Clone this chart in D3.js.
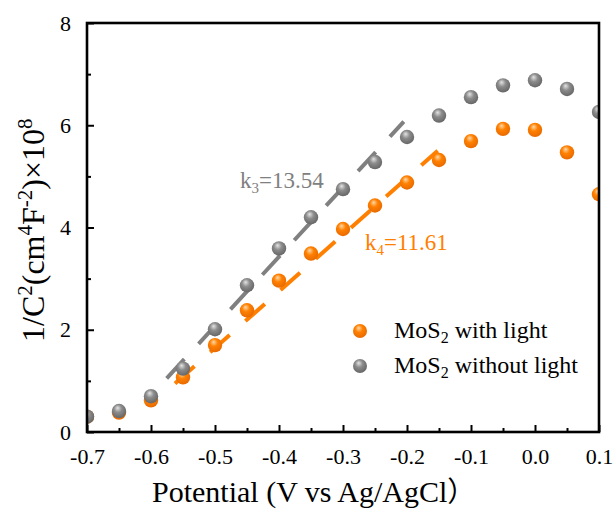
<!DOCTYPE html>
<html>
<head>
<meta charset="utf-8">
<script src="https://cdnjs.cloudflare.com/ajax/libs/d3/7.8.5/d3.min.js"></script>
<style>
  html, body { margin: 0; padding: 0; background: #ffffff; }
  svg { display: block; font-family: "Liberation Serif", "Times New Roman", serif; }
</style>
</head>
<body>
<svg id="chart" width="616" height="517"></svg>
<script>
// ---------- data ----------
const potential = [-0.70, -0.65, -0.60, -0.55, -0.50, -0.45, -0.40, -0.35, -0.30, -0.25, -0.20, -0.15, -0.10, -0.05, 0.00, 0.05, 0.10];
const withLight = [0.30, 0.38, 0.62, 1.07, 1.70, 2.38, 2.96, 3.49, 3.97, 4.43, 4.88, 5.32, 5.69, 5.93, 5.91, 5.47, 4.65];
const withoutLight = [0.30, 0.41, 0.70, 1.24, 2.01, 2.87, 3.59, 4.20, 4.75, 5.28, 5.77, 6.19, 6.55, 6.78, 6.88, 6.71, 6.26];
const fitDarkX = [-0.5755, -0.205];
const fitDarkY = [1.05, 6.07];
const fitLightX = [-0.5625, -0.152];
const fitLightY = [0.95, 5.50];
const xTicks = [-0.7, -0.6, -0.5, -0.4, -0.3, -0.2, -0.1, 0.0, 0.1];
const xMinorTicks = [-0.65, -0.55, -0.45, -0.35, -0.25, -0.15, -0.05, 0.05];
const yTicks = [0, 2, 4, 6, 8];
const yMinorTicks = [1, 3, 5, 7];
const legendLabels = ["with light", "without light"];
const kLabels = [{k: "3", v: "=13.54"}, {k: "4", v: "=11.61"}];

// ---------- layout ----------
const L = 87, R = 599, T = 23, B = 432;
const orange = "#ff8000", gray = "#808080";

const svg = d3.select("#chart");
const x = d3.scaleLinear().domain([-0.7, 0.1]).range([L, R]);
const y = d3.scaleLinear().domain([0, 8]).range([B, T]);

// gradients
const defs = svg.append("defs");
function sphere(id, hi, mid, edge) {
  const g = defs.append("radialGradient").attr("id", id)
    .attr("cx", "45%").attr("cy", "40%").attr("r", "60%").attr("fx", "40%").attr("fy", "28%");
  g.append("stop").attr("offset", "0%").attr("stop-color", hi);
  g.append("stop").attr("offset", "45%").attr("stop-color", mid);
  g.append("stop").attr("offset", "100%").attr("stop-color", edge);
}
sphere("gOrange", "#ffd9a8", orange, "#e86a00");
sphere("gGray", "#e4e4e4", "#8c8c8c", "#666666");

defs.append("clipPath").attr("id", "plotClip")
  .append("rect").attr("x", L).attr("y", T).attr("width", R - L).attr("height", B - T);

const plot = svg.append("g").attr("clip-path", "url(#plotClip)");

// fit lines
const line = d3.line().x(d => x(d[0])).y(d => y(d[1]));
plot.append("path").datum(d3.zip(fitDarkX, fitDarkY))
  .attr("d", line).attr("fill", "none").attr("stroke", gray)
  .attr("stroke-width", 4).attr("stroke-dasharray", "26,21");
plot.append("path").datum(d3.zip(fitLightX, fitLightY))
  .attr("d", line).attr("fill", "none").attr("stroke", orange)
  .attr("stroke-width", 4).attr("stroke-dasharray", "26,21");

// points
plot.selectAll("circle.light").data(d3.zip(potential, withLight)).join("circle")
  .attr("class", "light").attr("cx", d => x(d[0])).attr("cy", d => y(d[1]))
  .attr("r", 7.2).attr("fill", "url(#gOrange)");
plot.selectAll("circle.dark").data(d3.zip(potential, withoutLight)).join("circle")
  .attr("class", "dark").attr("cx", d => x(d[0])).attr("cy", d => y(d[1]))
  .attr("r", 7.2).attr("fill", "url(#gGray)");

// axes
const xAxis = d3.axisBottom(x).tickValues(xTicks).tickSizeInner(-7).tickSizeOuter(0)
  .tickPadding(16).tickFormat(d3.format(".1f"));
const gx = svg.append("g").attr("transform", `translate(0,${B})`).call(xAxis);
gx.select(".domain").remove();
gx.selectAll("line").attr("stroke", "#000").attr("stroke-width", 2);
gx.selectAll("text").attr("font-size", 22).attr("fill", "#000")
  .attr("font-family", "Liberation Serif").text(d => d3.format(".1f")(d).replace("−", "-"));

const xMinor = d3.axisBottom(x).tickValues(xMinorTicks).tickSizeInner(-4).tickSizeOuter(0).tickFormat("");
const gxm = svg.append("g").attr("transform", `translate(0,${B})`).call(xMinor);
gxm.select(".domain").remove();
gxm.selectAll("line").attr("stroke", "#000").attr("stroke-width", 2);

const yAxis = d3.axisLeft(y).tickValues(yTicks).tickSizeInner(-7).tickSizeOuter(0).tickPadding(16).tickFormat(d3.format("d"));
const gy = svg.append("g").attr("transform", `translate(${L},0)`).call(yAxis);
gy.select(".domain").remove();
gy.selectAll("line").attr("stroke", "#000").attr("stroke-width", 2);
gy.selectAll("text").attr("font-size", 22).attr("fill", "#000").attr("font-family", "Liberation Serif");

const yMinor = d3.axisLeft(y).tickValues(yMinorTicks).tickSizeInner(-4).tickSizeOuter(0).tickFormat("");
const gym = svg.append("g").attr("transform", `translate(${L},0)`).call(yMinor);
gym.select(".domain").remove();
gym.selectAll("line").attr("stroke", "#000").attr("stroke-width", 2);

// frame
svg.append("rect").attr("x", L).attr("y", T).attr("width", R - L).attr("height", B - T)
  .attr("fill", "none").attr("stroke", "#000").attr("stroke-width", 2.6);

// k labels
const k3 = svg.append("text").attr("x", 240).attr("y", 188).attr("font-size", 23).attr("fill", gray);
k3.append("tspan").text("k");
k3.append("tspan").attr("font-size", 15).attr("dy", 5).text(kLabels[0].k);
k3.append("tspan").attr("dy", -5).text(kLabels[0].v);
const k4 = svg.append("text").attr("x", 365).attr("y", 250).attr("font-size", 23).attr("fill", orange);
k4.append("tspan").text("k");
k4.append("tspan").attr("font-size", 15).attr("dy", 5).text(kLabels[1].k);
k4.append("tspan").attr("dy", -5).text(kLabels[1].v);

// legend
const legColors = ["url(#gOrange)", "url(#gGray)"];
legendLabels.forEach((lab, i) => {
  const cy = 331 + i * 35;
  svg.append("circle").attr("cx", 360).attr("cy", cy).attr("r", 7).attr("fill", legColors[i]);
  const t = svg.append("text").attr("x", 394).attr("y", cy + 7).attr("font-size", 24).attr("fill", "#000");
  t.append("tspan").text("MoS");
  t.append("tspan").attr("font-size", 16).attr("dy", 5).text("2");
  t.append("tspan").attr("dy", -5).text(" " + lab);
});

// axis titles
const xt = svg.append("text").attr("x", 152).attr("y", 502).attr("font-size", 30).attr("fill", "#000");
xt.append("tspan").text("Potential (V vs Ag/AgCl");
xt.append("tspan").attr("font-family", "Noto Sans CJK SC").attr("font-size", 28).text("）");

const yt = svg.append("text").attr("transform", "translate(44,342) rotate(-90)")
  .attr("font-size", 32).attr("fill", "#000");
yt.append("tspan").text("1/C");
yt.append("tspan").attr("font-size", 21).attr("dy", -12).text("2");
yt.append("tspan").attr("dy", 12).text("(cm");
yt.append("tspan").attr("font-size", 21).attr("dy", -12).text("4");
yt.append("tspan").attr("dy", 12).text("F");
yt.append("tspan").attr("font-size", 21).attr("dy", -12).text("-2");
yt.append("tspan").attr("dy", 12).text(")×10");
yt.append("tspan").attr("font-size", 21).attr("dy", -12).text("8");
</script>
</body>
</html>
